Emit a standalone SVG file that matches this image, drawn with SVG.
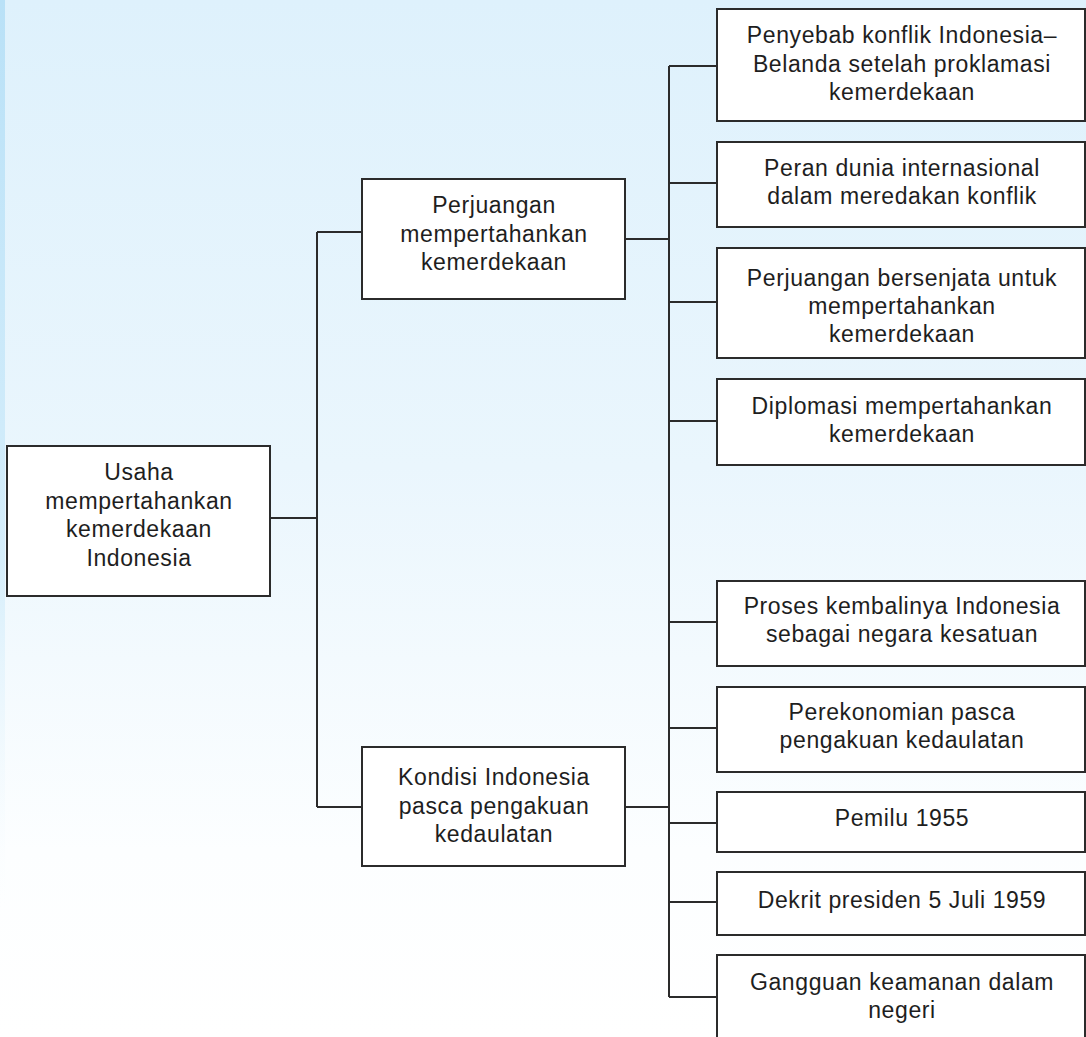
<svg xmlns="http://www.w3.org/2000/svg" width="1086" height="1037" viewBox="0 0 1086 1037">
<defs>
<linearGradient id="bg" x1="0" y1="0" x2="0" y2="1">
<stop offset="0" stop-color="#def1fc"/>
<stop offset="0.45" stop-color="#eaf6fd"/>
<stop offset="0.82" stop-color="#fcfeff"/>
<stop offset="1" stop-color="#ffffff"/>
</linearGradient>
<linearGradient id="strip" x1="0" y1="0" x2="0" y2="1">
<stop offset="0" stop-color="#b9e1f7"/>
<stop offset="0.6" stop-color="#d6eefb"/>
<stop offset="1" stop-color="#ffffff" stop-opacity="0"/>
</linearGradient>
<style>
.box{fill:#ffffff;stroke:#2b2b2b;stroke-width:2}
.conn{fill:none;stroke:#2b2b2b;stroke-width:2}
text{font-family:"Liberation Sans",Arial,sans-serif;font-size:23px;fill:#1e1e1e;text-anchor:middle;letter-spacing:0.6px}
</style>
</defs>
<rect x="0" y="0" width="1086" height="1037" fill="url(#bg)"/>
<rect x="0" y="0" width="5" height="935" fill="url(#strip)"/>
<g id="connectors">
<path class="conn" d="M270 518H317M317 232V807M317 232H362M317 807H362M625 239H669M625 807H669M669 66V997"/>
<path class="conn" d="M669 66H717M669 183H717M669 302H717M669 421H717M669 622H717M669 728H717M669 823H717M669 902H717M669 997H717"/>
</g>
<g id="root">
<rect class="box" x="7" y="446" width="263" height="150"/>
<text x="139" y="480">Usaha</text>
<text x="139" y="509">mempertahankan</text>
<text x="139" y="537">kemerdekaan</text>
<text x="139" y="566">Indonesia</text>
</g>
<g id="perjuangan">
<rect class="box" x="362" y="179" width="263" height="120"/>
<text x="494" y="213">Perjuangan</text>
<text x="494" y="242">mempertahankan</text>
<text x="494" y="270">kemerdekaan</text>
</g>
<g id="kondisi">
<rect class="box" x="362" y="747" width="263" height="119"/>
<text x="494" y="785">Kondisi Indonesia</text>
<text x="494" y="814">pasca pengakuan</text>
<text x="494" y="842">kedaulatan</text>
</g>
<g id="penyebab">
<rect class="box" x="717" y="9" width="368" height="112"/>
<text x="902" y="43">Penyebab konflik Indonesia–</text>
<text x="902" y="72">Belanda setelah proklamasi</text>
<text x="902" y="100">kemerdekaan</text>
</g>
<g id="peran">
<rect class="box" x="717" y="142" width="368" height="85"/>
<text x="902" y="176">Peran dunia internasional</text>
<text x="902" y="204">dalam meredakan konflik</text>
</g>
<g id="bersenjata">
<rect class="box" x="717" y="248" width="368" height="110"/>
<text x="902" y="286">Perjuangan bersenjata untuk</text>
<text x="902" y="314">mempertahankan</text>
<text x="902" y="342">kemerdekaan</text>
</g>
<g id="diplomasi">
<rect class="box" x="717" y="379" width="368" height="86"/>
<text x="902" y="414">Diplomasi mempertahankan</text>
<text x="902" y="442">kemerdekaan</text>
</g>
<g id="proses">
<rect class="box" x="717" y="581" width="368" height="85"/>
<text x="902" y="614">Proses kembalinya Indonesia</text>
<text x="902" y="642">sebagai negara kesatuan</text>
</g>
<g id="perekonomian">
<rect class="box" x="717" y="687" width="368" height="85"/>
<text x="902" y="720">Perekonomian pasca</text>
<text x="902" y="748">pengakuan kedaulatan</text>
</g>
<g id="pemilu">
<rect class="box" x="717" y="792" width="368" height="60"/>
<text x="902" y="826">Pemilu 1955</text>
</g>
<g id="dekrit">
<rect class="box" x="717" y="872" width="368" height="63"/>
<text x="902" y="908">Dekrit presiden 5 Juli 1959</text>
</g>
<g id="gangguan">
<rect class="box" x="717" y="955" width="368" height="100"/>
<text x="902" y="990">Gangguan keamanan dalam</text>
<text x="902" y="1018">negeri</text>
</g>
</svg>
